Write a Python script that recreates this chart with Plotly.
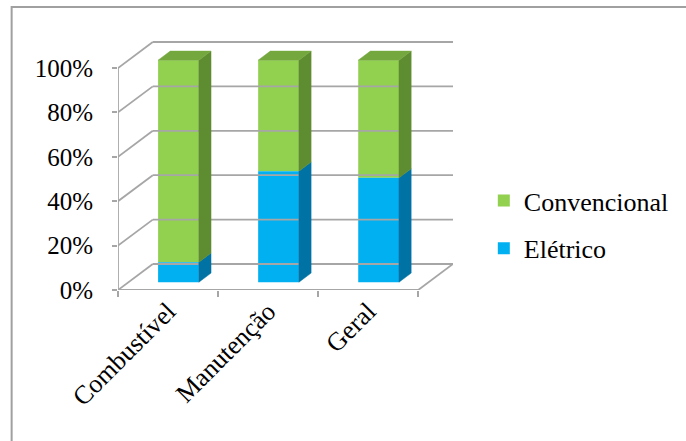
import plotly.graph_objects as go

categories = ["Combustível", "Manutenção", "Geral"]
eletrico = [9, 50, 47]
convencional = [91, 50, 53]
y_ticks = [0, 20, 40, 60, 80, 100]
y_tick_labels = ["0%", "20%", "40%", "60%", "80%", "100%"]

# layout geometry (pixels)
W, H = 686, 441
L, R, T, B = 118, 231, 39, 151
PX_PER_X = 100.67
PX_PER_Y = 2.22
DXU = 35 / PX_PER_X          # depth shift in x units
DYP = 26 / PX_PER_Y          # depth shift in % units
ZF, ZB = 0.30, 0.65          # bar front / back depth
BAR_W = 41 / PX_PER_X

GREEN, GREEN_SIDE, GREEN_TOP = "#92D050", "#5E8C30", "#74A83E"
BLUE, BLUE_SIDE = "#00B0F0", "#0072A3"
GRID = "#A6A6A6"
FONT = "'Times New Roman', 'Liberation Serif', 'DejaVu Serif', serif"

fig = go.Figure()


def line(xs, ys, color=GRID, width=1.8):
    fig.add_trace(go.Scatter(x=xs, y=ys, mode="lines", line=dict(color=color, width=width),
                             showlegend=False, hoverinfo="skip"))


def poly(xs, ys, color):
    fig.add_trace(go.Scatter(x=xs + [xs[0]], y=ys + [ys[0]], mode="lines", fill="toself",
                             fillcolor=color, line=dict(color=color, width=0.5),
                             showlegend=False, hoverinfo="skip"))


n = len(categories)
x0, x1 = -0.5, n - 0.5
# back wall gridlines + left wall diagonals
for v in y_ticks:
    line([x0 + DXU, x1 + DXU], [v + DYP, v + DYP])
    line([x0, x0 + DXU], [v, v + DYP])
# floor
line([x0, x1], [0, 0])
line([x1, x1 + DXU], [0, DYP])
# vertical value axis
line([x0, x0], [0, 100])

# bars: front faces through plotly bars
bx = [i + ZF * DXU for i in range(n)]
base0 = ZF * DYP
fig.add_trace(go.Bar(name="Convencional", x=bx, y=convencional,
                     base=[base0 + e for e in eletrico], width=BAR_W,
                     marker=dict(color=GREEN, line=dict(width=0)), legendgroup="c"))
fig.add_trace(go.Bar(name="Elétrico", x=bx, y=eletrico, base=[base0] * n, width=BAR_W,
                     marker=dict(color=BLUE, line=dict(width=0)), legendgroup="e"))

# side and top faces
dz = ZB - ZF
for i in range(n):
    xr = bx[i] + BAR_W / 2
    xl = bx[i] - BAR_W / 2
    segs = [(0, eletrico[i], BLUE_SIDE), (eletrico[i], eletrico[i] + convencional[i], GREEN_SIDE)]
    for lo, hi, col in segs:
        poly([xr, xr + dz * DXU, xr + dz * DXU, xr],
             [base0 + lo, base0 + lo + dz * DYP, base0 + hi + dz * DYP, base0 + hi], col)
    top = base0 + eletrico[i] + convencional[i]
    poly([xl, xr, xr + dz * DXU, xl + dz * DXU],
         [top, top, top + dz * DYP, top + dz * DYP], GREEN_TOP)

plot_w = W - L - R
plot_h = H - T - B


def px_x(p):
    return (p - L) / plot_w


def px_y(p):
    return (H - B - p) / plot_h


fig.add_shape(type="rect", xref="paper", yref="paper",
              x0=px_x(11), x1=px_x(W + 10), y0=px_y(H + 10), y1=px_y(7),
              line=dict(color="#A0A0A0", width=2), layer="below")

fig.update_layout(
    width=W, height=H,
    margin=dict(l=L, r=R, t=T, b=B),
    paper_bgcolor="white", plot_bgcolor="white",
    barmode="overlay",
    font=dict(family=FONT, size=26, color="black"),
    showlegend=True,
    legend=dict(x=px_x(486), y=px_y(177), xanchor="left", yanchor="top",
                traceorder="grouped", tracegroupgap=11,
                font=dict(family=FONT, size=26, color="black"),
                bgcolor="rgba(0,0,0,0)"),
    xaxis=dict(range=[x0, x1 + DXU], tickmode="array", tickvals=list(range(n)),
               ticktext=categories, tickangle=-45, ticks="", showgrid=False,
               zeroline=False, showline=False, fixedrange=True,
               tickfont=dict(family=FONT, size=26, color="black"),
               minor=dict(tickmode="array", tickvals=[x0 + k for k in range(n + 1)],
                          ticks="outside", ticklen=6, tickcolor=GRID, tickwidth=1.8,
                          showgrid=False)),
    yaxis=dict(range=[0, plot_h / PX_PER_Y], tickmode="array", tickvals=y_ticks,
               ticktext=y_tick_labels, ticks="outside", ticklen=5, tickcolor=GRID,
               tickwidth=1.8, showgrid=False, zeroline=False, showline=False,
               ticklabelstandoff=14, fixedrange=True,
               tickfont=dict(family=FONT, size=25, color="black")),
)

fig.write_html("out.html")
